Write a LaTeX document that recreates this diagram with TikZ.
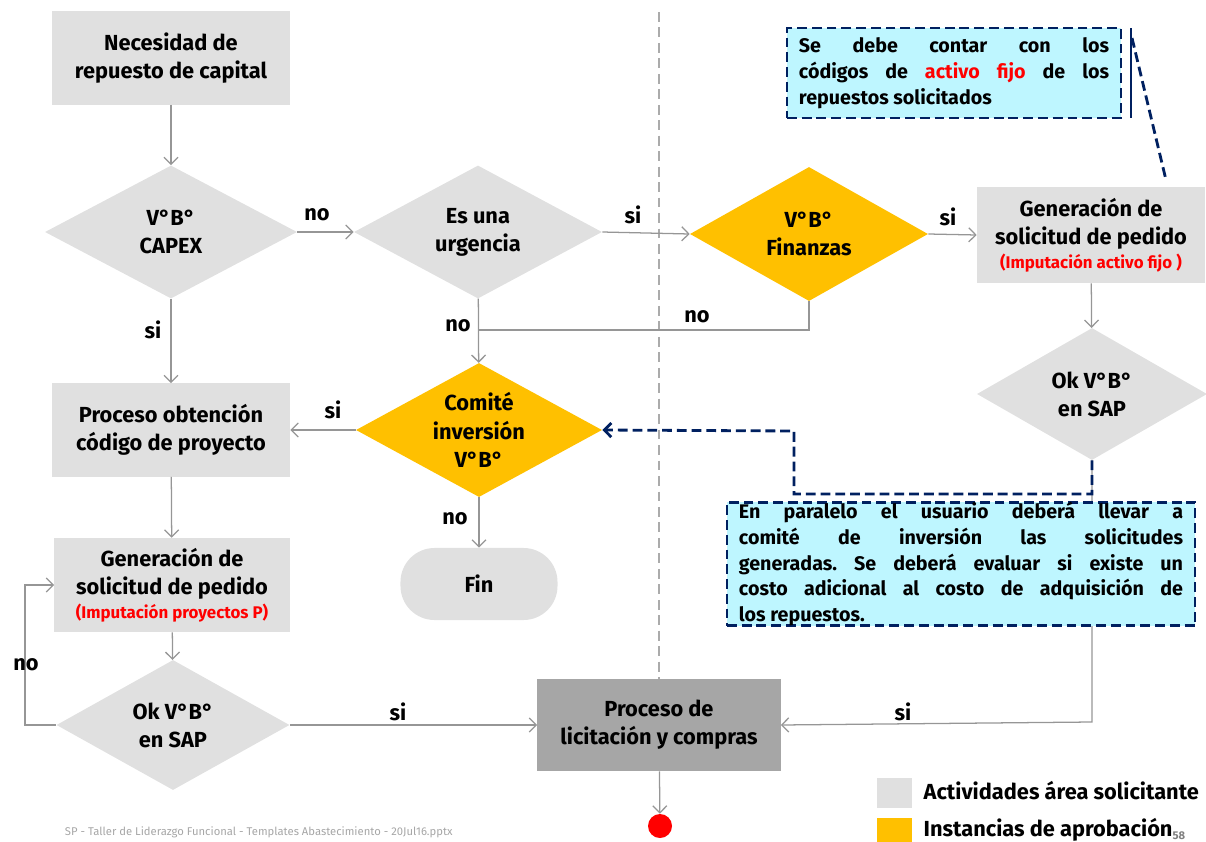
\documentclass[tikz,border=0pt]{standalone}
\usepackage{fontspec}
\setmainfont{Fira Sans}
\usepackage{tikz}
\usetikzlibrary{shapes.geometric,arrows.meta,positioning,calc}

\definecolor{actgray}{RGB}{224,224,224}
\definecolor{aprgold}{RGB}{255,192,0}
\definecolor{licgray}{RGB}{166,166,166}
\definecolor{linegray}{RGB}{150,150,150}
\definecolor{notenavy}{RGB}{0,32,96}
\definecolor{notecyan}{RGB}{190,246,255}
\definecolor{impred}{RGB}{255,0,0}

\tikzset{
  boxfont/.style={font=\bfseries\fontsize{15.5}{20}\selectfont},
  actbox/.style={rectangle, fill=actgray, align=center, boxfont, inner sep=2pt},
  actdiam/.style={diamond, shape aspect=1.84, fill=actgray, align=center, boxfont, inner sep=0pt},
  aprdiam/.style={actdiam, fill=aprgold},
  flow/.style={draw=linegray, line width=0.9pt, -{Straight Barb[length=5pt,width=10pt]}},
  link/.style={draw=linegray, line width=0.9pt},
  lbl/.style={font=\bfseries\fontsize{15.5}{17}\selectfont, inner sep=1pt},
  notebox/.style={rectangle, draw=notenavy, fill=notecyan, line width=2pt,
    dash pattern=on 7pt off 3.5pt, align=justify, inner xsep=0.3cm, inner ysep=0pt,
    font=\bfseries\fontsize{14}{18.3}\selectfont\frenchspacing},
  callout/.style={draw=notenavy, line width=2pt, dash pattern=on 7pt off 3.5pt},
  divider/.style={draw=linegray!80, line width=1.6pt, dash pattern=on 7pt off 4pt},
}
\newcommand{\imput}[1]{{\color{impred}\fontsize{12}{13}\selectfont #1}}

\begin{document}
\begin{tikzpicture}[x=0.025cm, y=-0.025cm]
    \useasboundingbox (0,0) rectangle (1206,842);

    % divider between areas
    \draw [divider] (659,12) -- (659,679);

    % left column
    \node [actbox, minimum width=5.95cm, minimum height=2.325cm] (need) at (171,58) {Necesidad de\\repuesto de capital};
    \node [actdiam, minimum width=6.3cm, minimum height=3.325cm] (capex) at (171,232) {V°B°\\CAPEX};
    \node [actbox, minimum width=5.95cm, minimum height=2.325cm] (proy) at (171,430) {Proceso obtención\\código de proyecto};
    \node [actbox, minimum width=5.875cm, minimum height=2.35cm] (genp) at (172,585) {Generación de\\solicitud de pedido\\[-3pt]\imput{(Imputación proyectos P)}};
    \node [actdiam, minimum width=5.825cm, minimum height=3.25cm] (okl) at (173,725) {Ok V°B°\\en SAP};

    % middle column
    \node [actdiam, minimum width=6.2cm, minimum height=3.325cm] (urg) at (478,232) {Es una\\urgencia};
    \node [aprdiam, minimum width=6.15cm, minimum height=3.35cm] (comite) at (479,430) {Comité\\inversión\\V°B°};
    \node [actbox, rounded corners=0.85cm, minimum width=3.925cm, minimum height=1.8cm] (fin) at (479,584) {Fin};
    \node [rectangle, fill=licgray, align=center, boxfont, minimum width=6.075cm, minimum height=2.3cm] (lic) at (659,725) {Proceso de\\licitación y compras};
    \node [circle, fill=impred, minimum size=0.6cm, inner sep=0pt] (dot) at (660,826) {};

    % right column
    \node [aprdiam, minimum width=5.95cm, minimum height=3.35cm] (fnz) at (809,234) {V°B°\\Finanzas};
    \node [actbox, minimum width=5.7cm, minimum height=2.4cm] (gena) at (1091,235) {Generación de\\solicitud de pedido\\[-3pt]\imput{(Imputación activo fijo )}};
    \node [actdiam, minimum width=5.75cm, minimum height=3.3cm] (okr) at (1092,394) {Ok V°B°\\en SAP};

    % connectors
    \draw [flow] (need) -- (capex);
    \draw [flow] (capex) -- (proy);
    \draw [flow] (capex.east) -- (urg.west);
    \draw [flow] (urg.east) -- (fnz.west);
    \draw [flow] (fnz.east) -- (gena.west);
    \draw [flow] (gena) -- (okr);
    \draw [flow] (urg) -- (comite);
    \coordinate (join) at (478,330);
    \draw [link] (fnz.south) |- (join);
    \draw [flow] (comite.west) -- (proy.east);
    \draw [flow] (comite) -- (fin);
    \draw [flow] (proy) -- (genp);
    \draw [flow] (genp) -- (okl);
    \coordinate (back) at (25,725);
    \draw [flow] (okl.west) -- (back) |- (genp.west);
    \draw [flow] (okl.east) -- (lic.west);
    \coordinate (turn) at (1092,722);
    \draw [flow] (okr.south) -- (turn) -- (lic.east);
    \draw [flow] (lic) -- (dot);

    % labels
    \node [lbl] (l1) at (317,215) {no};
    \node [lbl] (l2) at (633,215) {si};
    \node [lbl] (l3) at (948,217) {si};
    \node [lbl] (l4) at (153,330) {si};
    \node [lbl] (l5) at (458,326) {no};
    \node [lbl] (l6) at (697,317) {no};
    \node [lbl] (l7) at (333,410) {si};
    \node [lbl] (l8) at (455,519) {no};
    \node [lbl] (l9) at (26,665) {no};
    \node [lbl] (l10) at (398,712) {si};
    \node [lbl] (l11) at (903,712) {si};

    % notes
    \node [notebox, text width=7.75cm, minimum height=2.25cm] (fijo) at (954,73) {Se debe contar con los\linebreak códigos de {\color{impred}activo fijo} de los\linebreak repuestos solicitados};
    \coordinate (tick1) at (1131,28);
    \coordinate (tick2) at (1131,118);
    \draw [notenavy, line width=2pt] (tick1) -- (tick2);
    \draw [callout] (1132,38) -- (1166,180);

    \coordinate (n1) at (1092,494);
    \coordinate (n2) at (794,494);
    \coordinate (n3) at (794,431);
    \draw [callout, -{Straight Barb[length=5pt,width=10pt]}] (okr.south) -- (n1) -- (n2) -- (n3) -- (comite.east);
    \node [notebox, text width=11.1cm, minimum width=11.7cm, minimum height=3.05cm] (paral) at (961,564) {En paralelo el usuario deberá llevar a\linebreak comité de inversión las solicitudes\linebreak generadas. Se deberá evaluar si existe un\linebreak costo adicional al costo de adquisición de\linebreak los repuestos.};

    % legend
    \node [fill=actgray, minimum width=0.875cm, minimum height=0.75cm] (legact) at (894.5,793) {};
    \node [lbl, anchor=west] (legactt) at (922,791) {Actividades área solicitante};
    \node [fill=aprgold, minimum width=0.875cm, minimum height=0.6cm] (legapr) at (894.5,830) {};
    \node [lbl, anchor=west] (legaprt) at (922,830) {Instancias de aprobación\raisebox{-2pt}{\fontsize{8}{8}\selectfont\color{gray}58}};

    % footer
    \node [anchor=west, text=gray!70, font=\fontsize{8}{9}\selectfont] (foot) at (60,832) {SP - Taller de Liderazgo Funcional - Templates Abastecimiento - 20Jul16.pptx};
\end{tikzpicture}
\end{document}
